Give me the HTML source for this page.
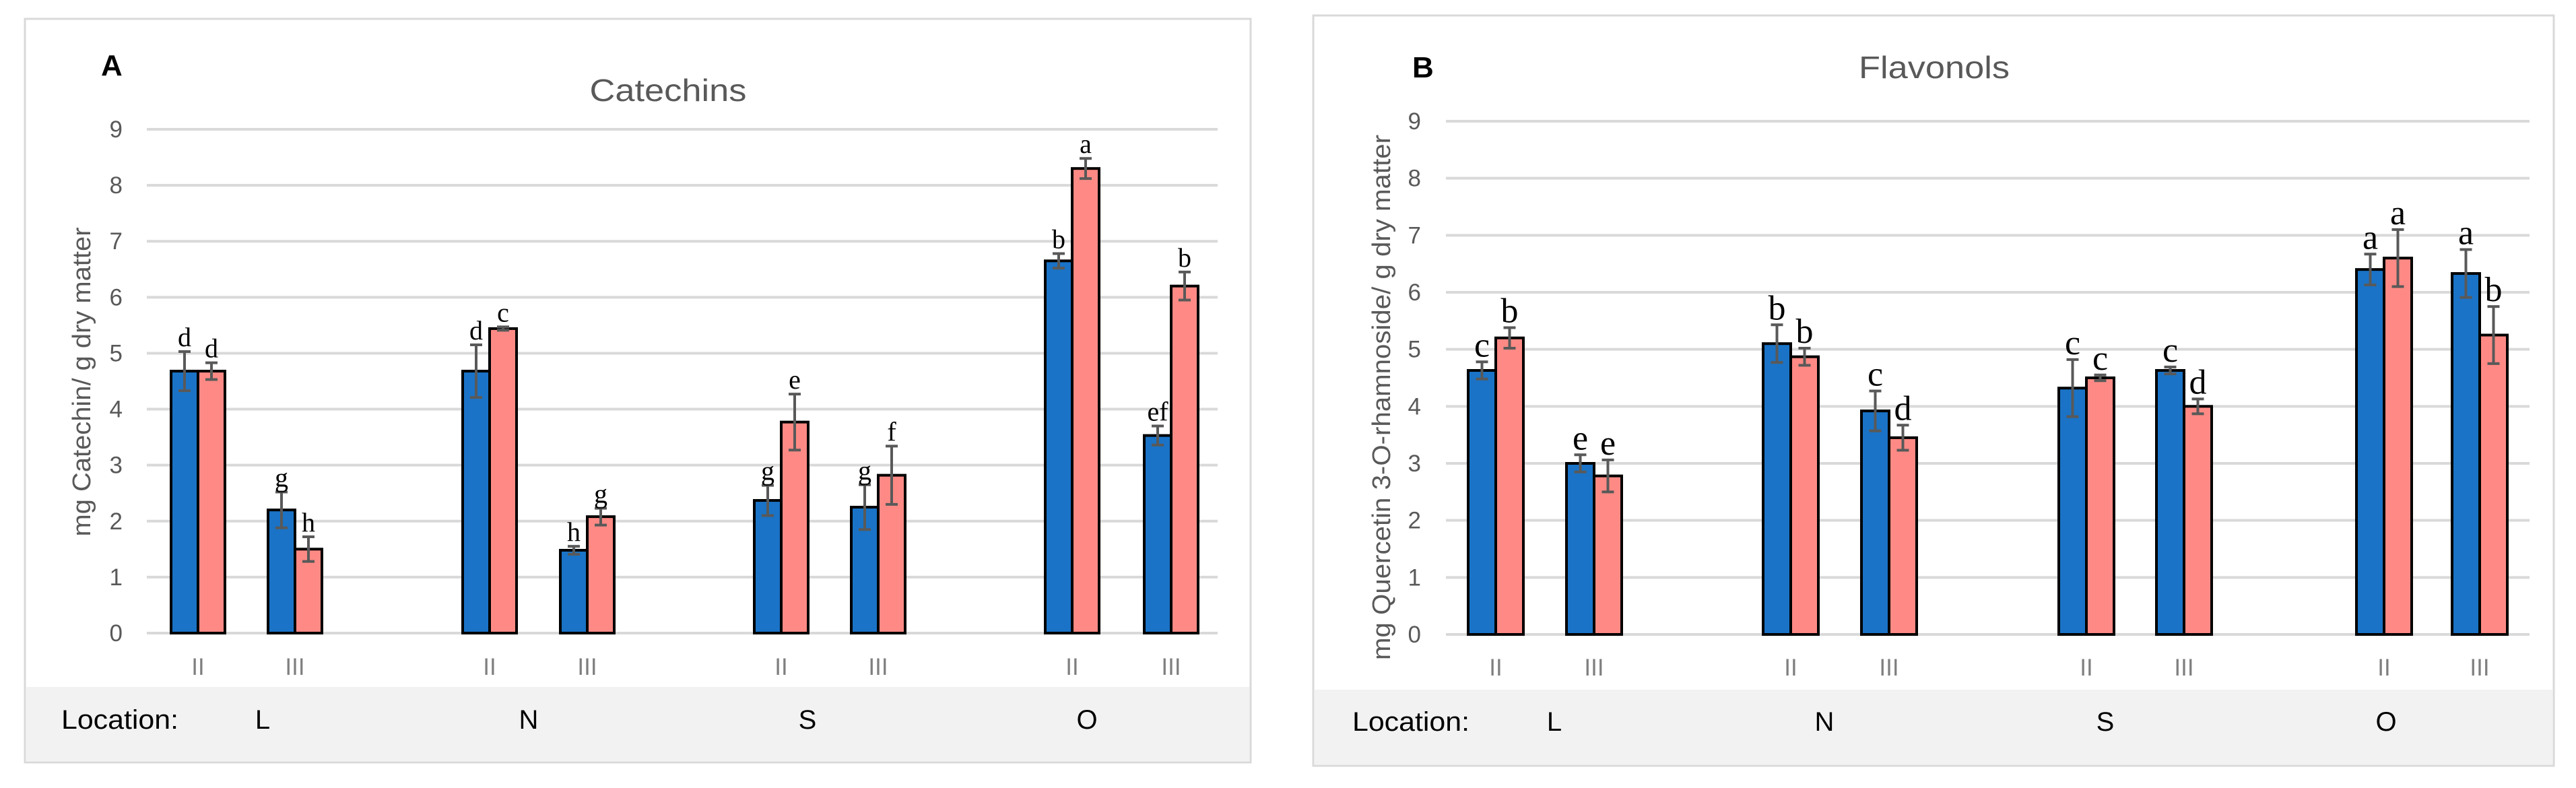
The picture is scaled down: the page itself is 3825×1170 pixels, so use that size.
<!DOCTYPE html>
<html><head><meta charset="utf-8"><style>
html,body{margin:0;padding:0;background:#fff;width:3825px;height:1170px;overflow:hidden}
svg{display:block}
</style></head><body>
<svg id="svg" width="3825" height="1170" xmlns="http://www.w3.org/2000/svg" font-family="Liberation Sans, sans-serif"></svg>
<script>
const categories = ["II","III","II","III","II","III","II","III"];
const locations = ["L","N","S","O"];
const yTicks = [0,1,2,3,4,5,6,7,8,9];
const catBlue = [4.68,2.2,4.68,1.48,2.37,2.25,6.65,3.53];
const catPink = [4.68,1.5,5.44,2.08,3.77,2.82,8.3,6.2];
const catBlueErr = [0.35,0.32,0.47,0.07,0.27,0.4,0.13,0.17];
const catPinkErr = [0.15,0.22,0.03,0.15,0.5,0.52,0.18,0.25];
const catBlueLet = ["d","g","d","h","g","g","b","ef"];
const catPinkLet = ["d","h","c","g","e","f","a","b"];
const flaBlue = [4.63,3.0,5.1,3.92,4.32,4.63,6.4,6.33];
const flaPink = [5.2,2.78,4.87,3.45,4.5,4.0,6.6,5.25];
const flaBlueErr = [0.15,0.15,0.33,0.35,0.5,0.06,0.27,0.42];
const flaPinkErr = [0.18,0.28,0.15,0.22,0.05,0.13,0.5,0.5];
const flaBlueLet = ["c","e","b","c","c","c","a","a"];
const flaPinkLet = ["b","e","b","d","c","d","a","b"];

const NS="http://www.w3.org/2000/svg";
const svg=document.getElementById('svg');
function mk(tag,attrs,parent,text){const e=document.createElementNS(NS,tag);for(const k in attrs)e.setAttribute(k,attrs[k]);if(text!==undefined)e.textContent=text;(parent||svg).appendChild(e);return e;}

function chart(c){
  const g=mk('g',{});
  
  
  const fr=mk('rect',{x:c.bx0,y:c.by0,width:c.bx1-c.bx0,height:c.by1-c.by0,fill:'#fff',stroke:'#d9d9d9','stroke-width':3},g);
  
  
  const band=mk('rect',{x:c.bx0+2,y:c.bandY,width:c.bx1-c.bx0-4,height:c.by1-c.bandY-2,fill:'#f2f2f2'},g);
  
  
  const y=v=>c.y0-(v/9)*(c.y0-c.y9);
  yTicks.forEach(t=>{
    const l=mk('line',{x1:c.px0,x2:c.px1,y1:y(t),y2:y(t),stroke:'#d9d9d9','stroke-width':4},g);
    
    
    const tx=mk('text',{x:c.tickX,y:y(t)+12,'text-anchor':'end','font-size':35,fill:'#595959'},g,String(t));
    
    
  });
  const bw=c.bw;
  categories.forEach((cat,i)=>{
    const cx=c.centers[i];
    const bars=[[c.blue[i],c.blueErr[i],c.blueLet[i],cx-bw,'#1a73c6'],[c.pink[i],c.pinkErr[i],c.pinkLet[i],cx,'#ff8a85']];
    bars.forEach((b,j)=>{
      const r=mk('rect',{x:b[3],y:y(b[0]),width:bw,height:y(0)-y(b[0]),fill:b[4],stroke:'#000','stroke-width':4},g);
      
      
      const ex=b[3]+bw/2;
      const e=mk('path',{d:`M${ex},${y(b[0]+b[1])}V${y(b[0]-b[1])}M${ex-9},${y(b[0]+b[1])}H${ex+9}M${ex-9},${y(b[0]-b[1])}H${ex+9}`,stroke:'#595959','stroke-width':4,fill:'none'},g);
      
      
      const lt=mk('text',{x:ex,y:y(b[0]+b[1])-8,'text-anchor':'middle','font-size':c.letSize,'font-family':'Liberation Serif, serif',fill:'#000'},g,b[2]);
      
      
    });
    const cl=mk('text',{x:cx,y:c.catY,'text-anchor':'middle','font-size':35,fill:'#7f7f7f'},g,cat);
    
    
  });
  const lo=mk('text',{x:c.locLabelX,y:c.locY,'font-size':40,fill:'#000',textLength:174,lengthAdjust:'spacingAndGlyphs'},g,'Location:');
  
  
  locations.forEach((L,i)=>{
    const t=mk('text',{x:c.locX[i],y:c.locY,'text-anchor':'middle','font-size':40,fill:'#000'},g,L);
    
    
  });
  const pl=mk('text',{x:c.letterX,y:c.letterY,'font-size':44,'font-weight':'bold',fill:'#000'},g,c.letter);
  
  
  const ti=mk('text',{x:c.titleX,y:c.titleY,'text-anchor':'middle','font-size':46,fill:'#595959',textLength:c.titleLen,lengthAdjust:'spacingAndGlyphs'},g,c.title);
  
  
  const yt=mk('text',{x:0,y:0,'text-anchor':'middle','font-size':38,fill:'#595959',textLength:c.ytLen,lengthAdjust:'spacingAndGlyphs',transform:`translate(${c.ytX},${c.ytY}) rotate(-90)`},g,c.ytitle);
  
  
}

chart({name:'catechins-chart',bx0:37,bx1:1857,by0:28,by1:1132,bandY:1020,y0:940,y9:192,px0:218,px1:1808,tickX:182,
  centers:[294,438,727,872,1160,1304,1592,1739],bw:40,blue:catBlue,pink:catPink,blueErr:catBlueErr,pinkErr:catPinkErr,
  blueLet:catBlueLet,pinkLet:catPinkLet,letSize:40,catY:1002,locY:1082,locLabelX:91,locX:[390,785,1199,1614],
  letter:'A',letterX:150,letterY:112,title:'Catechins',titleX:992,titleY:150,titleLen:233,ytitle:'mg Catechin/ g dry matter',ytLen:459,ytX:134,ytY:567});
chart({name:'flavonols-chart',bx0:1950,bx1:3792,by0:23,by1:1137,bandY:1024,y0:942,y9:180,px0:2147,px1:3756,tickX:2110,
  centers:[2221,2367,2659,2805,3098,3243,3540,3682],bw:41,blue:flaBlue,pink:flaPink,blueErr:flaBlueErr,pinkErr:flaPinkErr,
  blueLet:flaBlueLet,pinkLet:flaPinkLet,letSize:52,catY:1003,locY:1085,locLabelX:2008,locX:[2308,2709,3126,3543],
  letter:'B',letterX:2097,letterY:115,title:'Flavonols',titleX:2872,titleY:116,titleLen:224,ytitle:'mg Quercetin 3-O-rhamnoside/ g dry matter',ytLen:780,ytX:2064,ytY:590});
</script>
</body></html>
